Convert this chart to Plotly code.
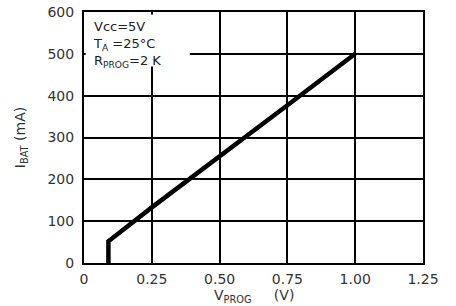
import plotly.graph_objects as go

v_prog = [0.09, 0.09, 0.25, 0.50, 0.75, 1.00]
i_bat = [0, 52, 133, 254, 377, 500]
x_ticks = [0, 0.25, 0.5, 0.75, 1.0, 1.25]
x_tick_labels = ["0", "0.25", "0.50", "0.75", "1.00", "1.25"]
y_ticks = [0, 100, 200, 300, 400, 500, 600]
y_tick_labels = ["0", "100", "200", "300", "400", "500", "600"]
x_title = "V<sub>PROG</sub>\u00a0\u00a0\u00a0\u00a0\u00a0(V)"
y_title = "I<sub>BAT</sub> (mA)"
notes = "Vcc=5V<br>T<sub>A</sub> =25°C<br>R<sub>PROG</sub>=2 K"

font = "DejaVu Sans"
txt = "#333333"
fig = go.Figure()
fig.add_trace(go.Scatter(x=v_prog, y=i_bat, mode="lines",
                         line=dict(color="black", width=4.5), showlegend=False))

fig.update_layout(
    width=456, height=306,
    margin=dict(l=84, r=33, t=12, b=43, autoexpand=False),
    paper_bgcolor="white", plot_bgcolor="white",
    font=dict(family=font, size=14, color=txt),
    xaxis=dict(range=[0, 1.25], tickvals=x_ticks, ticktext=x_tick_labels,
               showgrid=True, gridcolor="black", gridwidth=1.5,
               showline=True, linecolor="black", linewidth=2, mirror=True,
               zeroline=False, ticks="", ticklabelstandoff=2, automargin=False,
               tickfont=dict(size=14, color=txt)),
    yaxis=dict(range=[0, 600], tickvals=y_ticks, ticktext=y_tick_labels,
               showgrid=True, gridcolor="black", gridwidth=1.5,
               showline=True, linecolor="black", linewidth=2, mirror=True,
               zeroline=False, ticks="", ticklabelstandoff=5, automargin=False,
               tickfont=dict(size=14, color=txt),
               title=dict(text=y_title, standoff=19,
                          font=dict(size=14, color=txt))),
)

fig.add_annotation(x=0.5, y=0, xref="paper", yref="paper", text=x_title,
                   showarrow=False, xanchor="center", yanchor="middle", yshift=-33,
                   borderpad=0, font=dict(family=font, size=14, color=txt))

# white label box over the grid, as in the reference
fig.add_shape(type="rect", xref="x", yref="y", x0=0.006, x1=0.39, y0=470, y1=594,
              fillcolor="white", line=dict(width=0), layer="above")

fig.add_annotation(x=0.025, y=588, xref="x", yref="y", text=notes, showarrow=False,
                   xanchor="left", yanchor="top", align="left",
                   font=dict(family=font, size=13, color="#222222"))

fig.write_html("out.html", config={"displayModeBar": False},
               post_script="document.body.style.margin='0';document.body.style.overflow='hidden';")
